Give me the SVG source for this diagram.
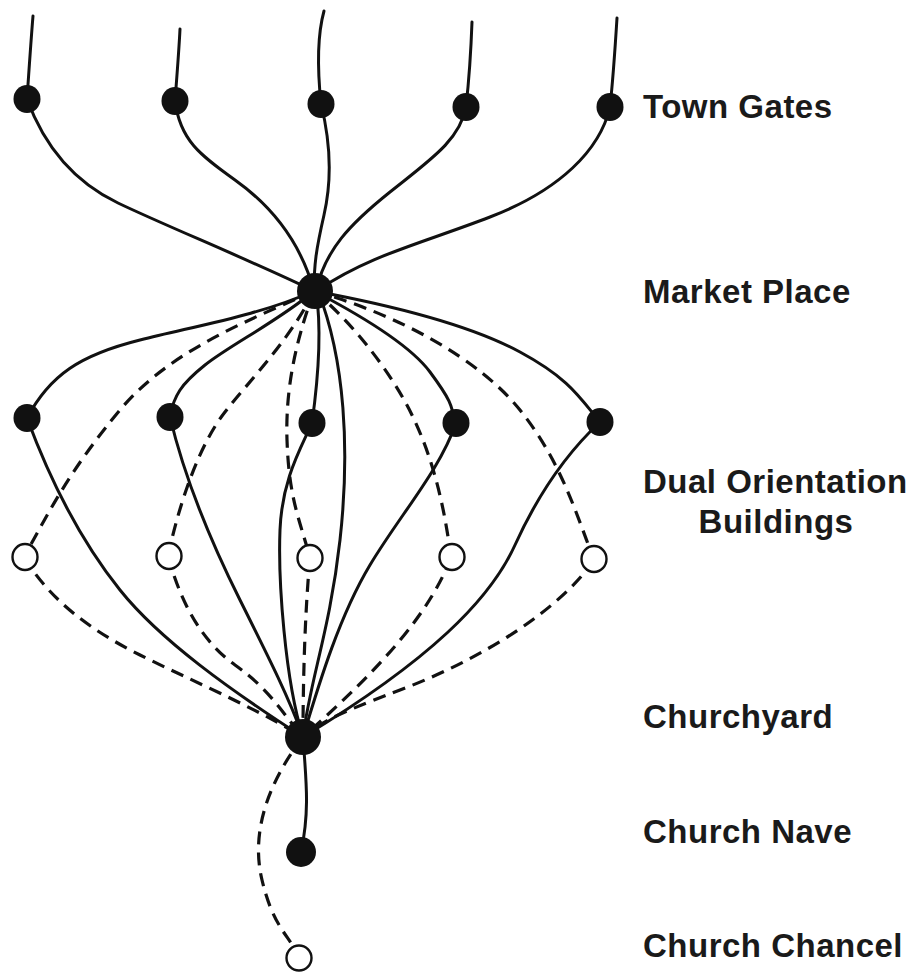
<svg xmlns="http://www.w3.org/2000/svg" width="916" height="973" viewBox="0 0 916 973">
<style>
.s{fill:none;stroke:#111;stroke-width:3;stroke-linecap:round}
.d{fill:none;stroke:#111;stroke-width:3.2;stroke-dasharray:13 8}
.f{fill:#111}
.o{fill:#fff;stroke:#111;stroke-width:2.4}
.t{font-family:"Liberation Sans",Arial,sans-serif;font-weight:bold;font-size:33px;letter-spacing:0.5px;fill:#1a1a1a}
</style>
<rect width="916" height="973" fill="#fff"/>
<g id="connectors">
<path class="s" d="M27,99 C29,70 31,40 33,16"/>
<path class="s" d="M175,101 C177,75 179,50 180,29"/>
<path class="s" d="M321,104 C318,75 316,40 324,11"/>
<path class="s" d="M466,107 C469,80 471,50 472,22"/>
<path class="s" d="M610,107 C613,80 615,50 617,18"/>
<path class="s" d="M27,99 C42,140 70,180 118,203 S250,260 314,291"/>
<path class="s" d="M175,101 C180,140 200,155 235,180 S300,240 314,291"/>
<path class="s" d="M321,104 C330,140 332,180 324,215 S314,265 314,291"/>
<path class="s" d="M466,107 C460,140 430,160 390,192 S325,250 316,291"/>
<path class="s" d="M610,107 C600,150 560,190 490,217 S370,255 318,290"/>
<path class="s" d="M314,291 C260,315 200,325 140,340 S50,375 27,418"/>
<path class="s" d="M314,291 C280,320 230,345 205,365 S175,395 169,417"/>
<path class="s" d="M316,291 C322,330 318,380 312,423"/>
<path class="s" d="M314,291 C360,315 410,345 430,372 S452,405 455,423"/>
<path class="s" d="M314,291 C390,305 470,325 520,352 S580,398 600,422"/>
<path class="d" d="M314,291 C250,320 170,350 120,410 S50,510 24,557"/>
<path class="d" d="M314,291 C290,340 250,380 225,412 S180,500 168,556"/>
<path class="d" d="M314,291 C300,330 285,380 287,440 S300,520 310,558"/>
<path class="d" d="M314,291 C350,320 390,370 412,415 S445,510 451,558"/>
<path class="d" d="M314,291 C400,315 480,360 520,410 S575,510 594,560"/>
<path class="s" d="M318,291 C345,360 350,450 340,540 S310,680 303,737"/>
<path class="s" d="M27,418 C50,480 80,540 120,590 S230,690 303,737"/>
<path class="s" d="M170,417 C185,480 210,540 240,600 S290,700 303,737"/>
<path class="s" d="M312,423 C300,450 282,480 280,530 S285,680 303,737"/>
<path class="s" d="M456,423 C440,470 400,515 370,565 S320,680 303,737"/>
<path class="s" d="M600,422 C570,450 540,490 515,545 S430,660 303,737"/>
<path class="d" d="M24,557 C50,600 90,630 140,655 S250,705 303,737"/>
<path class="d" d="M168,556 C180,600 200,640 235,665 S280,710 303,737"/>
<path class="d" d="M310,558 C305,610 303,680 303,737"/>
<path class="d" d="M451,558 C430,610 390,660 303,737"/>
<path class="d" d="M594,560 C560,610 480,660 400,690 S320,725 303,737"/>
<path class="s" d="M303,737 C306,780 310,810 301,852"/>
<path class="d" d="M303,737 C270,780 250,830 262,880 S290,935 299,958"/>
</g>
<g id="gate1"><ellipse class="f" cx="27" cy="99" rx="13.5" ry="14"/></g>
<g id="gate2"><ellipse class="f" cx="175" cy="101" rx="13.5" ry="14"/></g>
<g id="gate3"><ellipse class="f" cx="321" cy="104" rx="13.5" ry="14"/></g>
<g id="gate4"><ellipse class="f" cx="466" cy="107" rx="13.5" ry="14"/></g>
<g id="gate5"><ellipse class="f" cx="610" cy="107" rx="13.5" ry="14"/></g>
<g id="market"><circle class="f" cx="315" cy="291" r="18"/></g>
<g id="dual1"><ellipse class="f" cx="27" cy="418" rx="13.5" ry="14"/></g>
<g id="dual2"><ellipse class="f" cx="170" cy="417" rx="13.5" ry="14"/></g>
<g id="dual3"><ellipse class="f" cx="312" cy="423" rx="13.5" ry="14"/></g>
<g id="dual4"><ellipse class="f" cx="456" cy="423" rx="13.5" ry="14"/></g>
<g id="dual5"><ellipse class="f" cx="600" cy="422" rx="13.5" ry="14"/></g>
<g id="open1"><ellipse class="o" cx="25" cy="557" rx="12.5" ry="13"/></g>
<g id="open2"><ellipse class="o" cx="169" cy="556" rx="12.5" ry="13"/></g>
<g id="open3"><ellipse class="o" cx="310" cy="558" rx="12.5" ry="13"/></g>
<g id="open4"><ellipse class="o" cx="452" cy="557" rx="12.5" ry="13"/></g>
<g id="open5"><ellipse class="o" cx="594" cy="559" rx="12.5" ry="13"/></g>
<g id="churchyard"><circle class="f" cx="303" cy="737" r="18"/></g>
<g id="nave"><circle class="f" cx="301" cy="852" r="15"/></g>
<g id="chancel"><circle class="o" cx="299" cy="958" r="12.5"/></g>
<g id="labels">
<text class="t" x="643" y="118">Town Gates</text>
<text class="t" x="643" y="303">Market Place</text>
<text class="t" x="643" y="493">Dual Orientation</text>
<text class="t" x="776" y="533" text-anchor="middle">Buildings</text>
<text class="t" x="643" y="728">Churchyard</text>
<text class="t" x="643" y="843">Church Nave</text>
<text class="t" x="643" y="957">Church Chancel</text>
</g>
</svg>
